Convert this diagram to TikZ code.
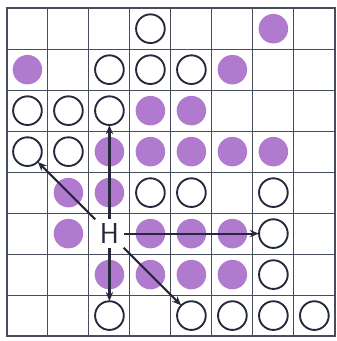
\documentclass[tikz,border=0pt]{standalone}
\usepackage{tikz}
\usetikzlibrary{arrows.meta}
\definecolor{gridColor}{RGB}{70,78,92}
\definecolor{stoneColor}{RGB}{176,122,206}
\definecolor{inkColor}{RGB}{40,40,60}

\tikzset{
    filledstone/.style={circle, fill=stoneColor, minimum size=0.72cm, inner sep=0pt},
    openstone/.style={circle, draw=inkColor, line width=1.3pt, fill=white, minimum size=0.7cm, inner sep=0pt},
    move/.style={-{Stealth[length=2.2mm,width=1.8mm]}, line width=1.5pt, inkColor, shorten >=-0.5pt}
}

\begin{document}
\begin{tikzpicture}

    \useasboundingbox (-0.17,-0.12) rectangle (8.05,8.2);

    \draw[gridColor, line width=0.7pt] (0,0) grid (8,8);
    \draw[gridColor, line width=1.4pt] (0,0) rectangle (8,8);

    % purple stones
    \foreach \r/\c in {1/7, 2/1, 2/6, 3/4, 3/5, 4/3, 4/4, 4/5, 4/6, 4/7,
                       5/2, 5/3, 6/2, 6/4, 6/5, 6/6, 7/3, 7/4, 7/5, 7/6}
        \node[filledstone] (f\r\c) at (\c-0.5, 8.5-\r) {};

    % open stones
    \foreach \r/\c in {1/4, 2/3, 2/4, 2/5, 3/1, 3/2, 3/3, 4/1, 4/2, 5/4, 5/5,
                       5/7, 6/7, 7/7, 8/3, 8/5, 8/6, 8/7, 8/8}
        \node[openstone] (o\r\c) at (\c-0.5, 8.5-\r) {};

    \node[inkColor, font=\sffamily\fontsize{20}{20}\selectfont, inner sep=3pt] (H) at (2.5, 2.5) {H};

    \foreach \t in {o33, o41, o67, o83, o85}
        \draw[move] (H) -- (\t);
\end{tikzpicture}
\end{document}
